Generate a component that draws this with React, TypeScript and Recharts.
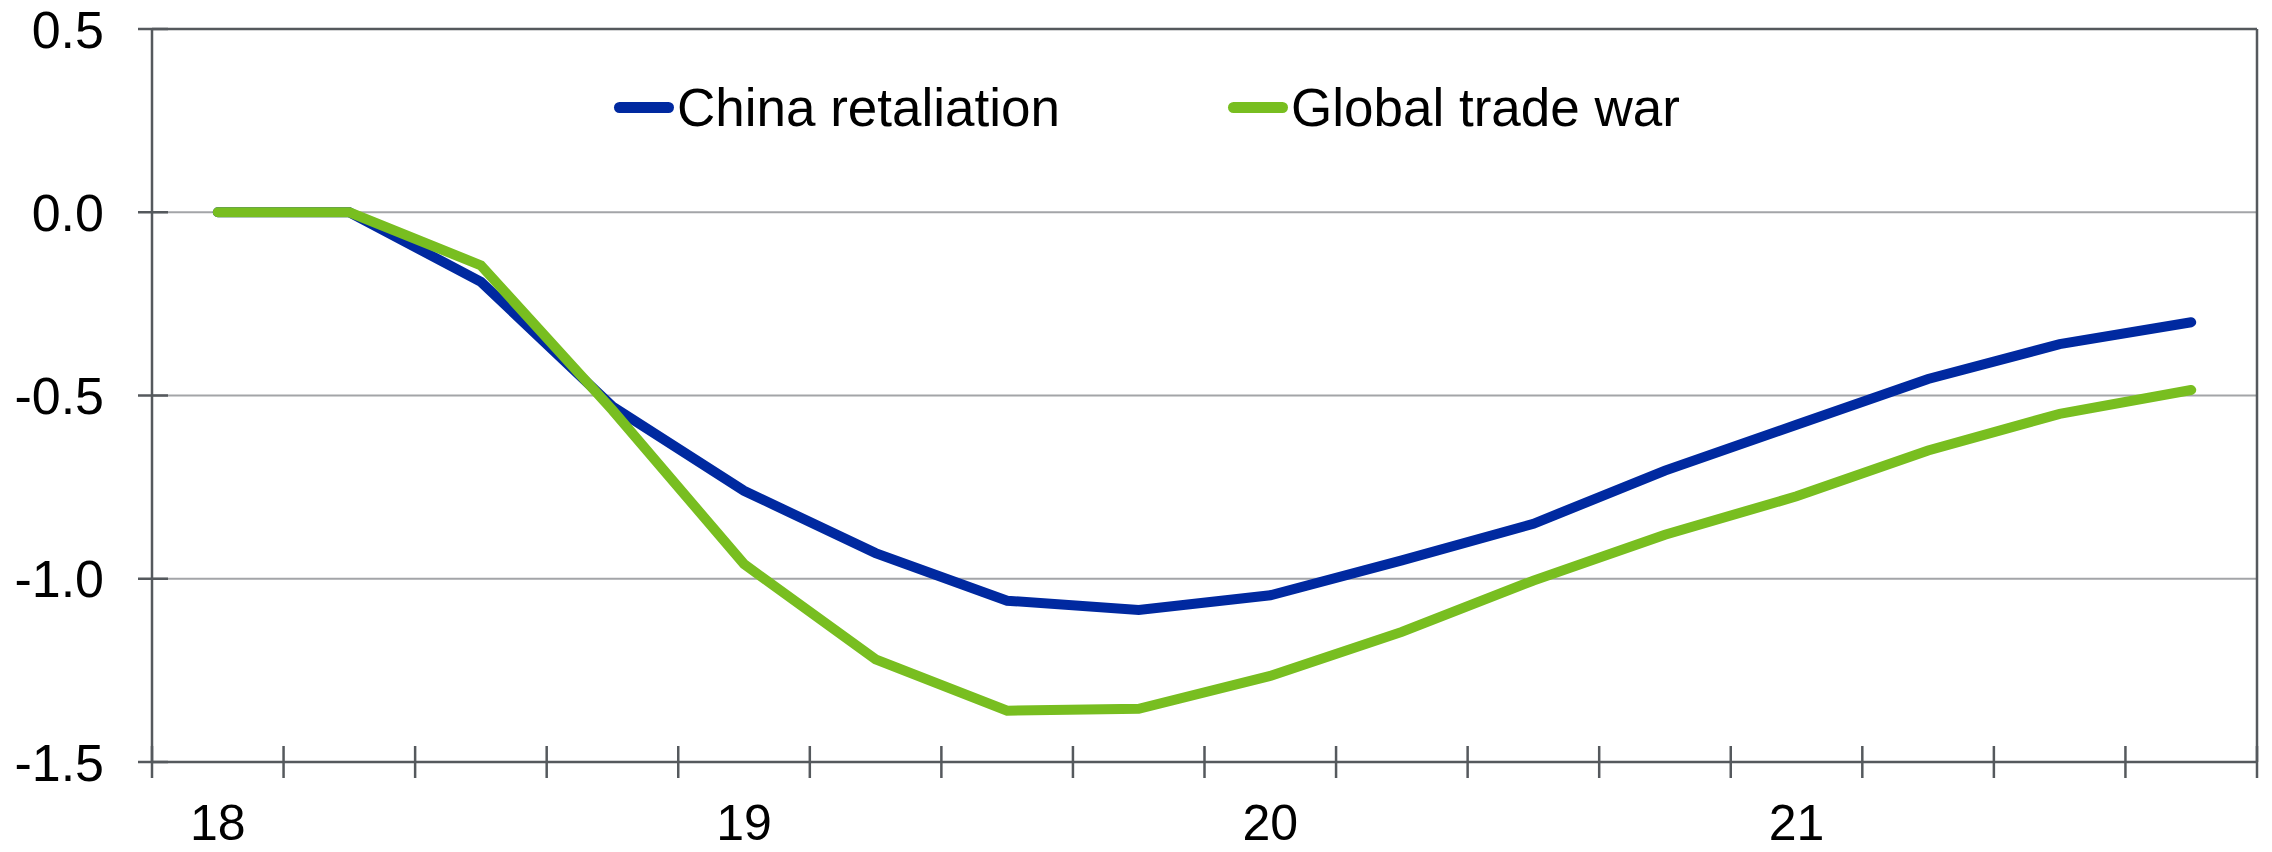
import {
  CartesianGrid,
  Line,
  LineChart,
  ReferenceLine,
  XAxis,
  YAxis,
} from "recharts";

// ---------------------------------------------------------------------------
// Data
// ---------------------------------------------------------------------------

const QUARTERS = [
  "18Q1", "18Q2", "18Q3", "18Q4",
  "19Q1", "19Q2", "19Q3", "19Q4",
  "20Q1", "20Q2", "20Q3", "20Q4",
  "21Q1", "21Q2", "21Q3", "21Q4",
];
const YEAR_LABELS = ["18", "19", "20", "21"];

const CHINA_RETALIATION = [
  0, 0, -0.19, -0.53, -0.76, -0.93, -1.06, -1.085,
  -1.045, -0.95, -0.85, -0.705, -0.58, -0.455, -0.36, -0.3,
];
const GLOBAL_TRADE_WAR = [
  0, 0, -0.145, -0.54, -0.96, -1.22, -1.36, -1.355,
  -1.265, -1.145, -1.005, -0.88, -0.775, -0.65, -0.55, -0.485,
];

const Y_TICKS = [-1.5, -1.0, -0.5, 0, 0.5];
const X_BOUNDS = QUARTERS.map((_, i) => i).concat(QUARTERS.length);

const SERIES = [
  { key: "china", name: "China retaliation", color: "#0029a0" },
  { key: "global", name: "Global trade war", color: "#78be20" },
];

const rows = QUARTERS.map((q, i) => ({
  quarter: q,
  x: i + 0.5,
  china: CHINA_RETALIATION[i],
  global: GLOBAL_TRADE_WAR[i],
}));

// ---------------------------------------------------------------------------
// Layout
// ---------------------------------------------------------------------------

const WIDTH = 2272;
const HEIGHT = 852;
const Y_AXIS_W = 152;
const RIGHT = 15;
const PLOT_W = WIDTH - Y_AXIS_W - RIGHT;
const HALF_BAND = PLOT_W / QUARTERS.length / 2;

const AXIS = "#55595d";
const GRID = "#a3a5a8";
const FONT = '"Liberation Sans", Arial, Helvetica, sans-serif';

// ---------------------------------------------------------------------------
// Ticks
// ---------------------------------------------------------------------------

function XTick(props: any) {
  const { x, y, payload } = props;
  const v = payload.value as number;
  const label = v % 4 === 0 && v < QUARTERS.length ? YEAR_LABELS[v / 4] : null;
  return (
    <g>
      <line x1={x} x2={x} y1={y - 32} y2={y} stroke={AXIS} strokeWidth={2.5} />
      {label && (
        <text
          x={x + HALF_BAND}
          y={y + 62}
          textAnchor="middle"
          fill="#000"
          fontSize={50}
          fontFamily={FONT}
        >
          {label}
        </text>
      )}
    </g>
  );
}

function YTick(props: any) {
  const { x, y, payload } = props;
  const axisX = x + 14 + 34;
  return (
    <g>
      <line
        x1={axisX - 14}
        x2={axisX + 16}
        y1={y}
        y2={y}
        stroke={AXIS}
        strokeWidth={2.5}
      />
      <text
        x={x}
        y={y}
        dy="0.36em"
        textAnchor="end"
        fill="#000"
        fontSize={52}
        fontFamily={FONT}
      >
        {(payload.value as number).toFixed(1)}
      </text>
    </g>
  );
}

// ---------------------------------------------------------------------------
// Legend
// ---------------------------------------------------------------------------

function ChartLegend() {
  return (
    <div
      style={{
        position: "absolute",
        left: 614,
        top: 81,
        display: "flex",
        alignItems: "center",
        gap: 168,
        fontFamily: FONT,
        fontSize: 53,
        lineHeight: "53px",
        color: "#000",
        whiteSpace: "nowrap",
      }}
    >
      {SERIES.map((s) => (
        <div key={s.key} style={{ display: "flex", alignItems: "center" }}>
          <div
            style={{
              width: 60,
              height: 11,
              borderRadius: 5.5,
              background: s.color,
              marginRight: 3,
            }}
          />
          <span>{s.name}</span>
        </div>
      ))}
    </div>
  );
}

// ---------------------------------------------------------------------------
// Chart
// ---------------------------------------------------------------------------

export default function App() {
  return (
    <div
      style={{
        position: "absolute",
        left: 0,
        top: 0,
        width: WIDTH,
        height: HEIGHT,
        background: "#fff",
      }}
    >
      <LineChart
        width={WIDTH}
        height={HEIGHT}
        data={rows}
        margin={{ top: 29, right: RIGHT, bottom: 0, left: 0 }}
      >
        <CartesianGrid vertical={false} stroke={GRID} strokeWidth={2} />
        <XAxis
          type="number"
          dataKey="x"
          domain={[0, QUARTERS.length]}
          ticks={X_BOUNDS}
          interval={0}
          height={90}
          tickSize={16}
          tickMargin={0}
          tickLine={false}
          axisLine={{ stroke: AXIS, strokeWidth: 2.5 }}
          tick={(p: any) => <XTick {...p} />}
        />
        <YAxis
          domain={[-1.5, 0.5]}
          ticks={Y_TICKS}
          interval={0}
          width={Y_AXIS_W}
          tickSize={14}
          tickMargin={34}
          tickLine={false}
          axisLine={{ stroke: AXIS, strokeWidth: 2.5 }}
          tick={(p: any) => <YTick {...p} />}
        />
        <ReferenceLine y={0.5} stroke={AXIS} strokeWidth={2.5} />
        <ReferenceLine x={QUARTERS.length} stroke={AXIS} strokeWidth={2.5} />
        {SERIES.map((s) => (
          <Line
            key={s.key}
            type="linear"
            dataKey={s.key}
            name={s.name}
            stroke={s.color}
            strokeWidth={10}
            strokeLinecap="round"
            dot={false}
            activeDot={false}
            isAnimationActive={false}
          />
        ))}
      </LineChart>
      <ChartLegend />
    </div>
  );
}
